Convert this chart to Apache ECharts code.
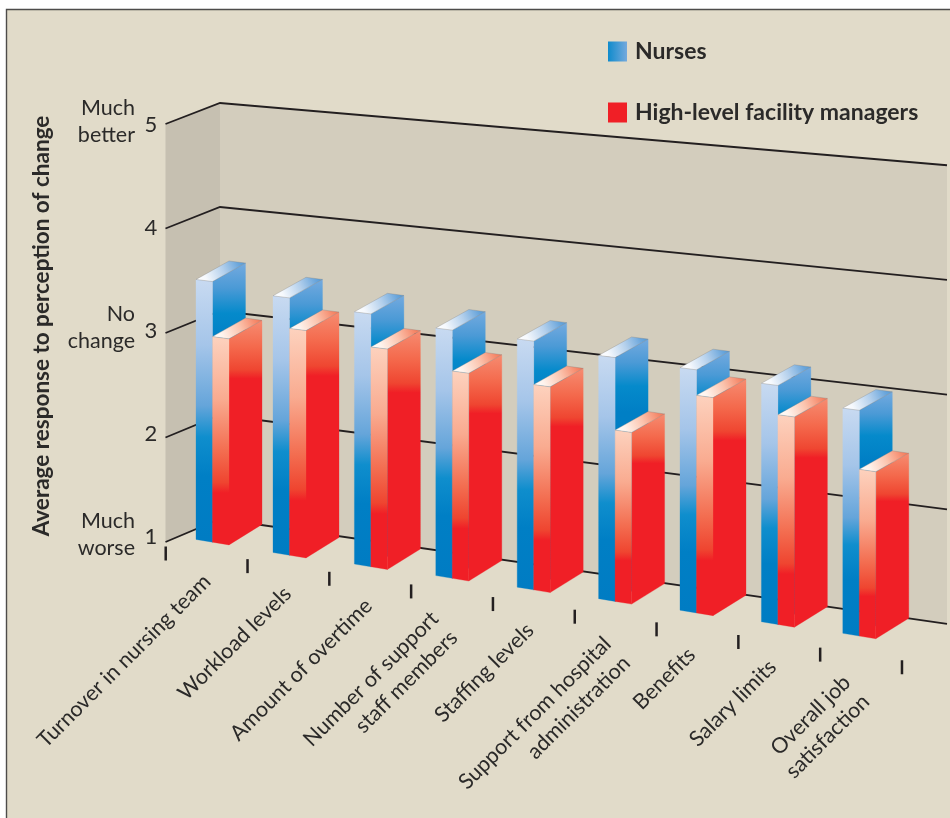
<!DOCTYPE html>
<html><head><meta charset="utf-8">
<style>html,body{margin:0;padding:0;background:#fff}#c{width:950px;height:818px}</style>
<script src="https://cdn.jsdelivr.net/npm/echarts@6/dist/echarts.min.js"></script>
</head><body><div id="c"></div>
<script>
const categories = ['Turnover in nursing team','Workload levels','Amount of overtime','Number of support\nstaff members','Staffing levels','Support from hospital\nadministration','Benefits','Salary limits','Overall job\nsatisfaction'];
const nurses   = [3.51,3.45,3.38,3.31,3.29,3.22,3.19,3.13,2.99];
const managers = [2.98,3.16,3.07,2.93,2.89,2.56,2.96,2.87,2.47];
const yTicks = [1,2,3,4,5];
const yWords = {1:'Much\nworse',3:'No\nchange',5:'Much\nbetter'};
const seriesNames = ['Nurses','High-level facility managers'];
const yTitle = 'Average response to perception of change';

// Oblique projection of the plain cartesian grid
const UNIT0=104, FONT='Lato,"Noto Sans",sans-serif', INK='#2b2a29';
const unit=X=>104+(X-220)*0.0147;
const BW=16.5/81.4, DX=33, DY_TOP=-18.5, DY_BOTTOM=-20.5;
const NUDGE={3:[-5,10],5:[6,11],8:[3,13]};
function front(api,i,k,v){
  const b=api.coord([i,1]), t=api.coord([i+k*BW,v]);
  const F=552.5+(b[0]-273)*0.1418;
  let X=t[0], Y=F+(X-b[0])*0.165-(b[1]-t[1])/UNIT0*unit(X);
  if(i===0){X+=4.4;Y-=1.5;}
  return [X,Y];
}
function wall(api,xv,v){
  const t=api.coord([xv,v]), b=api.coord([xv,1]);
  return [t[0],519+(t[0]-220)*0.1444-(b[1]-t[1])/UNIT0*unit(t[0])];
}
const xOf=X=>(X-191.6)/81.4;
function side(api,v){ // outer edge of the left wall
  const t=api.coord([0,v]),b=api.coord([0,1]);
  return [165.5,542-(b[1]-t[1])/UNIT0*104.5];
}
const grad=(stops,h)=>({type:'linear',x:0,y:h?1:0,x2:h?1:0,y2:h?0:1,colorStops:stops.map(s=>({offset:s[0],color:s[1]}))});
const styles=[
 {front:grad([[0,'#c8daf1'],[.25,'#a5c5e9'],[.48,'#65a5da'],[.6,'#0f8ecd'],[.75,'#007fc5'],[1,'#007cc3']]),
  side:grad([[0,'#74aadf'],[.09,'#4b9ad6'],[.18,'#058acb'],[.28,'#007fc5'],[1,'#007cc3']]),
  top:grad([[0,'#ffffff'],[.2,'#f6f9fd'],[.55,'#b4d0ec'],[.85,'#6aa6dc'],[1,'#4f98d6']],true)},
 {front:grad([[0,'#fdd2be'],[.3,'#f9ab90'],[.55,'#f36d50'],[.7,'#ef4530'],[.75,'#f01f26'],[1,'#f01f26']]),
  side:grad([[0,'#f68c71'],[.12,'#f4694c'],[.22,'#ef4631'],[.26,'#f01f26'],[1,'#f01f26']]),
  top:grad([[0,'#ffffff'],[.2,'#fef4ee'],[.55,'#fbc4ae'],[.85,'#f68a6c'],[1,'#f4714f']],true)}
];
function barItem(si){
  return function(params,api){
    const i=api.value(0), v=api.value(1), k0=si, k1=si+1;
    const a=front(api,i,k0,v), b=front(api,i,k1,v), c=front(api,i,k1,1), d=front(api,i,k0,1);
    const poly=(pts,fill,stroke)=>({type:'polygon',shape:{points:pts},style:{fill,stroke:stroke||fill,lineWidth:stroke?0.6:0.3}});
    const off=(p,dy)=>[p[0]+DX,p[1]+dy];
    return {type:'group',children:[
      poly([b,off(b,DY_TOP),off(c,DY_BOTTOM),c],styles[si].side),
      poly([a,b,c,d],styles[si].front),
      poly([a,b,off(b,DY_TOP),off(a,DY_TOP)],styles[si].top,'rgba(130,130,130,0.55)')
    ]};
  };
}
const series=[
 {type:'custom',silent:true,clip:false,data:[[0]],z:1,renderItem(p,api){
   const xL=xOf(220),xR=xOf(947);
   return {type:'group',children:[
     {type:'polygon',shape:{points:[side(api,5),wall(api,xL,5),wall(api,xL,1),side(api,1)]},style:{fill:'#c6c0b1'}},
     {type:'polygon',shape:{points:[wall(api,xL,5),wall(api,xR,5),wall(api,xR,1),wall(api,xL,1)]},style:{fill:'#d3cdbd'}}
   ]};
 }},
 {type:'custom',silent:true,clip:false,data:yTicks.map(v=>[v]),z:2,renderItem(p,api){
   const v=api.value(0),xL=xOf(220),xR=xOf(947);
   return {type:'polyline',shape:{points:[side(api,v),wall(api,xL,v),wall(api,xR,v)]},style:{stroke:'#231f20',lineWidth:1.8,fill:null}};
 }},
 {type:'custom',name:seriesNames[0],silent:true,clip:false,z:3,itemStyle:{color:'#2a90d0'},data:nurses.map((v,i)=>[i,v]),encode:{x:0,y:1},renderItem:barItem(0)},
 {type:'custom',name:seriesNames[1],silent:true,clip:false,z:4,itemStyle:{color:'#f01f26'},data:managers.map((v,i)=>[i,v]),encode:{x:0,y:1},renderItem:barItem(1)},
 {type:'custom',silent:true,clip:false,z:5,data:categories.concat(['']).map((c,j)=>[j]),renderItem(p,api){
   const t=api.coord([api.value(0)*1.005-0.318,1]);
   const y=553.5+(t[0]-165.7)*0.1545;
   return {type:'line',shape:{x1:t[0],y1:y-7,x2:t[0],y2:y+7},style:{stroke:'#231f20',lineWidth:2.5}};
 }},
 {type:'custom',silent:true,clip:false,z:6,data:categories.map((c,j)=>[j]),renderItem(p,api){
   const i=api.value(0), t=api.coord([i,1]), n=NUDGE[i]||[0,0];
   return {type:'text',x:t[0]+15.4+i*(-0.6)+n[0],y:578+i*12.2+n[1],rotation:Math.PI/4,
     style:{text:categories[i],align:'right',verticalAlign:'middle',font:'21.5px '+FONT,fill:INK,lineHeight:27}};
 }},
 {type:'custom',silent:true,clip:false,z:6,data:yTicks.map(v=>[v]),renderItem(p,api){
   const v=api.value(0), t=api.coord([0,v]), b=api.coord([0,1]);
   const y=537-(b[1]-t[1])/UNIT0*103;
   const kids=[{type:'text',x:151,y:y,style:{text:String(v),align:'center',verticalAlign:'middle',font:'22px '+FONT,fill:INK}}];
   if(yWords[v])kids.push({type:'text',x:135,y:y-(v===1?2:3),style:{text:yWords[v],align:'right',verticalAlign:'middle',font:'21.5px '+FONT,fill:INK,lineHeight:27}});
   return {type:'group',children:kids};
 }}
];
const chart=echarts.init(document.getElementById('c'));
chart.setOption({
 animation:false,backgroundColor:'#ffffff',
 graphic:[
  {type:'rect',z:-10,silent:true,shape:{x:6.5,y:9.5,width:980,height:840},style:{fill:'#e1dbc9',stroke:'#4d4c4a',lineWidth:1.4}},
  {type:'text',z:10,silent:true,x:42,y:326,rotation:Math.PI/2,style:{text:yTitle,align:'center',verticalAlign:'middle',font:'bold 22.5px '+FONT,fill:INK}}
 ],
 grid:{left:110.2,top:100,width:814,height:416,containLabel:false},
 xAxis:{type:'value',min:-1,max:9,show:false},
 yAxis:{type:'value',min:1,max:5,show:false},
 legend:{left:608,top:40,padding:0,orient:'vertical',itemWidth:19,itemHeight:20,itemGap:38,selectedMode:false,icon:'rect',
   textStyle:{fontFamily:'Lato,"Noto Sans",sans-serif',fontWeight:'bold',fontSize:23,color:INK,padding:[0,0,0,3]},
   data:[{name:seriesNames[0],itemStyle:{color:{type:'linear',x:0,y:0,x2:1,y2:0,colorStops:[{offset:0,color:'#0f8bcc'},{offset:1,color:'#74a9dd'}]}}},
         {name:seriesNames[1],itemStyle:{color:'#f01f26'}}]},
 series
});
</script></body></html>
